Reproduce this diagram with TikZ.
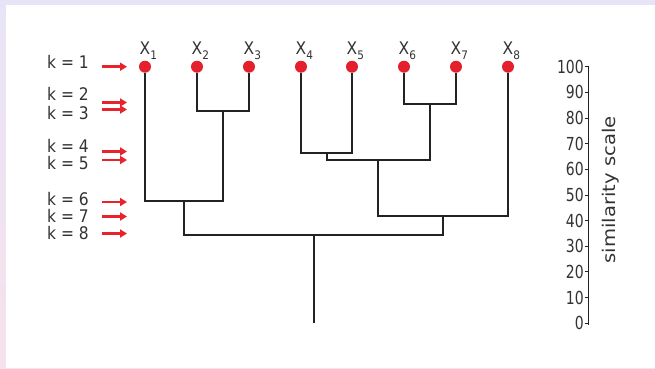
\documentclass[tikz,border=0pt]{standalone}
\usepackage{fontspec}
\setmainfont{DejaVu Sans}
\usepackage{graphicx}
\usetikzlibrary{arrows.meta}
\definecolor{dotred}{HTML}{E3202B}
\definecolor{arrred}{HTML}{E8232B}
\definecolor{linegray}{HTML}{222222}
\definecolor{textgray}{HTML}{333333}
\definecolor{lavtop}{HTML}{E8E4F7}
\definecolor{pinkbot}{HTML}{F6E2EC}
\newcommand{\vstr}[1]{\scalebox{1}[1.12]{#1}}
\begin{document}
\begin{tikzpicture}[x=1pt,y=-1pt,
  leaf/.style={circle,fill=dotred,inner sep=0pt,minimum size=12pt},
  tree/.style={draw=linegray,line width=2pt},
  karrow/.style={draw=arrred,line width=2.6pt,-{Triangle[length=7pt,width=8pt]}},
  klabel/.style={anchor=base east,inner sep=0pt,text=textgray,font=\fontsize{15.5}{16}\selectfont},
  xlabel/.style={anchor=base west,inner sep=0pt,text=textgray,font=\fontsize{15.5}{16}\selectfont},
  ticklabel/.style={anchor=east,inner sep=0pt,text=textgray,font=\fontsize{14}{14}\selectfont},
]
\useasboundingbox (0,0) rectangle (655,368);
\shade[top color=lavtop,bottom color=pinkbot] (0,0) rectangle (655,368);
\fill[white] (6,5) rectangle (655,368);

% leaves
\foreach \i/\x in {1/145,2/197,3/249,4/301,5/352,6/404,7/456,8/508}{
  \node[leaf] (l\i) at (\x,66.7) {};
  \node[xlabel] (t\i) at (\x-5.5,54) {\vstr{X\raisebox{-4.5pt}{\fontsize{10.5}{10.5}\selectfont\i}}};
}

% merge points
\coordinate (m67) at (430,104.3);
\coordinate (m23) at (223,111);
\coordinate (m45) at (326.5,152.7);
\coordinate (m4567) at (378.25,160);
\coordinate (m123) at (184,201);
\coordinate (m45678) at (443,216);
\coordinate (root) at (313.5,235.3);
\coordinate (rootend) at (313.5,323.3);

\draw[tree] (l6) |- (m67) -| (l7);
\draw[tree] (l2) |- (m23) -| (l3);
\draw[tree] (l4) |- (m45) -| (l5);
\draw[tree] (m45) |- (m4567) -| (m67);
\draw[tree] (l1) |- (m123) -| (m23);
\draw[tree] (m4567) |- (m45678) -| (l8);
\draw[tree] (m123) |- (root) -| (m45678);
\draw[tree] (root) -- (rootend);

% k labels and arrows
\foreach \k/\by/\ay in {1/68.5/66.7,2/100.5/102.5,3/119/109.5,4/152.5/151.5,5/169.5/160,6/205/202,7/222/216.5,8/239.5/233.5}{
  \node[klabel] (k\k) at (89,\by) {\vstr{k = \k}};
  \coordinate (as\k) at (102,\ay);
  \coordinate (ae\k) at (127,\ay);
  \draw[karrow] (as\k) -- (ae\k);
}

% similarity axis
\coordinate (axtop) at (588.5,65.5);
\coordinate (axbot) at (588.5,324.5);
\draw[draw=linegray,line width=1.5pt] (axtop) -- (axbot);
\foreach \v in {0,10,...,100}{
  \coordinate (tka\v) at (584.5,323.3-2.566*\v);
  \coordinate (tkb\v) at (588.5,323.3-2.566*\v);
  \draw[draw=linegray,line width=1pt] (tka\v) -- (tkb\v);
  \node[ticklabel] (tl\v) at (584,323.3-2.566*\v) {\scalebox{1}[1.28]{\v}};
}
\node[rotate=90,inner sep=0pt,text=textgray,font=\fontsize{17.5}{18}\selectfont] (sim) at (611,190) {\scalebox{1.12}[1]{similarity scale}};
\end{tikzpicture}
\end{document}
